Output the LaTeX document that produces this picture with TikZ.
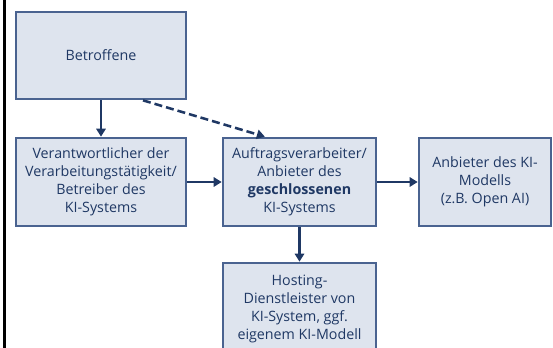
\documentclass[tikz,border=0pt]{standalone}
\usepackage{fontspec}
\setmainfont{Open Sans}
\usetikzlibrary{arrows.meta,calc}
\definecolor{boxfill}{HTML}{DEE4EE}
\definecolor{boxline}{HTML}{4A6390}
\definecolor{navy}{HTML}{1F3864}
\tikzset{
  card/.style={draw=boxline, fill=boxfill, line width=2pt, align=center,
    text=navy, font=\fontsize{10.7}{13.5}\selectfont, inner sep=2pt},
  link/.style={draw=navy, line width=1.9pt, -{Triangle[length=6pt,width=7pt]}},
}
\begin{document}
\begin{tikzpicture}[x=0.75pt,y=-0.75pt]
\useasboundingbox (0,0) rectangle (553,347);
\fill[white] (0,0) rectangle (553,347);
\begin{scope}
\clip (0,0) rectangle (553,347);
\draw[black, line width=2.25pt] (4.5,-5) -- (4.5,352);
\node[card, minimum width=127.5pt, minimum height=65.25pt] (bet) at (101,55.5) {Betroffene};
\node[card, minimum width=127.5pt, minimum height=66pt] (ver) at (101,182) {Verantwortlicher der\\Verarbeitungstätigkeit/\\Betreiber des\\KI-Systems};
\node[card, minimum width=114.75pt, minimum height=66pt] (auf) at (299.5,182) {Auftragsverarbeiter/\\Anbieter des\\\textbf{geschlossenen}\\KI-Systems};
\node[card, minimum width=99pt, minimum height=66pt] (anb) at (485,182) {Anbieter des KI-\\Modells\\(z.B. Open AI)};
\node[card, minimum width=114.75pt, minimum height=69pt] (hos) at (299.5,309) {Hosting-\\Dienstleister von\\KI-System, ggf.\\eigenem KI-Modell};
\draw[link] (bet.south) -- (ver.north);
\draw[link, dashed, dash pattern=on 6pt off 3pt] ([xshift=31.5pt]bet.south) -- ([xshift=-26pt]auf.north);
\draw[link] (ver.east) -- (auf.west);
\draw[link] (auf.east) -- (anb.west);
\draw[link] (auf.south) -- (hos.north);
\end{scope}
\end{tikzpicture}
\end{document}
